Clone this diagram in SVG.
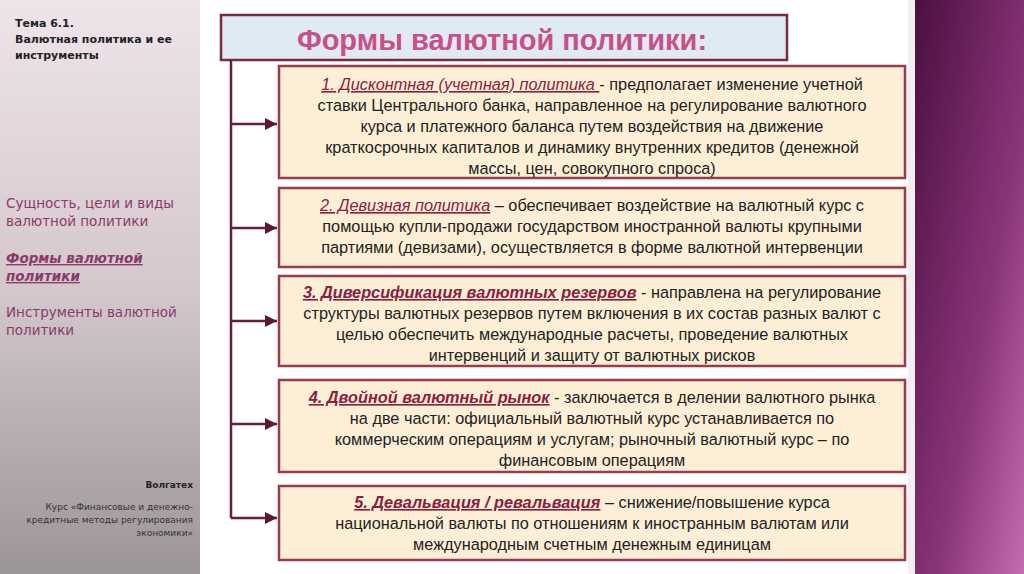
<svg xmlns="http://www.w3.org/2000/svg" width="1024" height="574" viewBox="0 0 1024 574">
<defs>
<linearGradient id="lg" x1="0" y1="0" x2="0" y2="1"><stop offset="0" stop-color="#efe4ea"/><stop offset="0.5" stop-color="#d4c8cc"/><stop offset="1" stop-color="#9c9596"/></linearGradient>
<linearGradient id="rg" x1="0" y1="0" x2="1" y2="1"><stop offset="0" stop-color="#4a1040"/><stop offset="0.6" stop-color="#8a3478"/><stop offset="1" stop-color="#c46cb0"/></linearGradient>
<marker id="ar" viewBox="0 0 10 10" refX="10" refY="5" markerWidth="5" markerHeight="5" orient="auto"><path d="M0,0 L10,5 L0,10 z" fill="#5a1a30"/></marker>
</defs>
<style>
.box{fill:#fdefd6;stroke:#9a3a4a;stroke-width:2.5}
.t{font-family:"Liberation Sans",Arial,sans-serif;font-size:16.3px;fill:#222;text-anchor:middle}
.h{fill:#8a2040;font-style:italic;text-decoration:underline}
.c{stroke:#6a1e38;stroke-width:2.5;fill:none}
.l{font-family:"DejaVu Sans",sans-serif;font-size:13.5px;fill:#8a3a6a}
</style>
<rect width="1024" height="574" fill="#fff"/>
<rect width="200" height="574" fill="url(#lg)"/>
<rect x="915" width="109" height="574" fill="url(#rg)"/>
<rect x="908" width="7" height="574" fill="#f4eef2"/>
<g id="sidebar">
<text x="15" y="27" font-family="DejaVu Sans,sans-serif" font-size="11" font-weight="bold" fill="#222">Тема 6.1.</text>
<text x="15" y="43" font-family="DejaVu Sans,sans-serif" font-size="11" font-weight="bold" fill="#222">Валютная политика и ее</text>
<text x="15" y="59" font-family="DejaVu Sans,sans-serif" font-size="11" font-weight="bold" fill="#222">инструменты</text>
<text class="l" x="6" y="208">Сущность, цели и виды</text>
<text class="l" x="6" y="226">валютной политики</text>
<text class="l" x="6" y="263" font-weight="bold" font-style="italic" text-decoration="underline" fill="#7a2a50">Формы валютной</text>
<text class="l" x="6" y="281" font-weight="bold" font-style="italic" text-decoration="underline" fill="#7a2a50">политики</text>
<text class="l" x="6" y="317">Инструменты валютной</text>
<text class="l" x="6" y="335">политики</text>
<text x="193" y="488" font-family="DejaVu Sans,sans-serif" font-size="9" font-weight="bold" fill="#222" text-anchor="end">Волгатех</text>
<text x="193" y="510" font-family="DejaVu Sans,sans-serif" font-size="9" fill="#333" text-anchor="end">Курс «Финансовые и денежно-</text>
<text x="193" y="523" font-family="DejaVu Sans,sans-serif" font-size="9" fill="#333" text-anchor="end">кредитные методы регулирования</text>
<text x="193" y="536" font-family="DejaVu Sans,sans-serif" font-size="9" fill="#333" text-anchor="end">экономики»</text>
</g>
<g id="title">
<rect x="221" y="15" width="566" height="45" fill="#dfeaf3" stroke="#7a2a45" stroke-width="2.5"/>
<text x="502" y="50" font-family="Liberation Sans,sans-serif" font-size="29" font-weight="bold" fill="#c8508a" text-anchor="middle">Формы валютной политики:</text>
</g>
<g id="connectors">
<path class="c" d="M231,60 V518"/>
<path class="c" d="M231,124 H277" marker-end="url(#ar)"/>
<path class="c" d="M231,228 H277" marker-end="url(#ar)"/>
<path class="c" d="M231,321 H277" marker-end="url(#ar)"/>
<path class="c" d="M231,424 H277" marker-end="url(#ar)"/>
<path class="c" d="M231,518 H277" marker-end="url(#ar)"/>
</g>
<g id="n1"><rect class="box" x="279" y="66" width="626" height="112"/>
<text class="t" x="592" y="90"><tspan class="h">1. Дисконтная (учетная) политика </tspan> - предполагает изменение учетной</text>
<text class="t" x="592" y="111">ставки Центрального банка, направленное на регулирование валютного</text>
<text class="t" x="592" y="132">курса и платежного баланса путем воздействия на движение</text>
<text class="t" x="592" y="153">краткосрочных капиталов и динамику внутренних кредитов (денежной</text>
<text class="t" x="592" y="174">массы, цен, совокупного спроса)</text></g>
<g id="n2"><rect class="box" x="279" y="188" width="626" height="79"/>
<text class="t" x="592" y="211"><tspan class="h">2. Девизная политика</tspan> – обеспечивает воздействие на валютный курс с</text>
<text class="t" x="592" y="232">помощью купли-продажи государством иностранной валюты крупными</text>
<text class="t" x="592" y="253">партиями (девизами), осуществляется в форме валютной интервенции</text></g>
<g id="n3"><rect class="box" x="279" y="276" width="626" height="90"/>
<text class="t" x="592" y="298"><tspan class="h" font-weight="bold">3. Диверсификация валютных резервов</tspan> - направлена на регулирование</text>
<text class="t" x="592" y="319">структуры валютных резервов путем включения в их состав разных валют с</text>
<text class="t" x="592" y="340">целью обеспечить международные расчеты, проведение валютных</text>
<text class="t" x="592" y="361">интервенций и защиту от валютных рисков</text></g>
<g id="n4"><rect class="box" x="279" y="380" width="626" height="92"/>
<text class="t" x="592" y="403"><tspan class="h" font-weight="bold">4. Двойной валютный рынок</tspan> - заключается в делении валютного рынка</text>
<text class="t" x="592" y="424">на две части: официальный валютный курс устанавливается по</text>
<text class="t" x="592" y="445">коммерческим операциям и услугам; рыночный валютный курс – по</text>
<text class="t" x="592" y="466">финансовым операциям</text></g>
<g id="n5"><rect class="box" x="279" y="486" width="626" height="74"/>
<text class="t" x="592" y="508"><tspan class="h" font-weight="bold">5. Девальвация / ревальвация</tspan> – снижение/повышение курса</text>
<text class="t" x="592" y="529">национальной валюты по отношениям к иностранным валютам или</text>
<text class="t" x="592" y="550">международным счетным денежным единицам</text></g>
</svg>
